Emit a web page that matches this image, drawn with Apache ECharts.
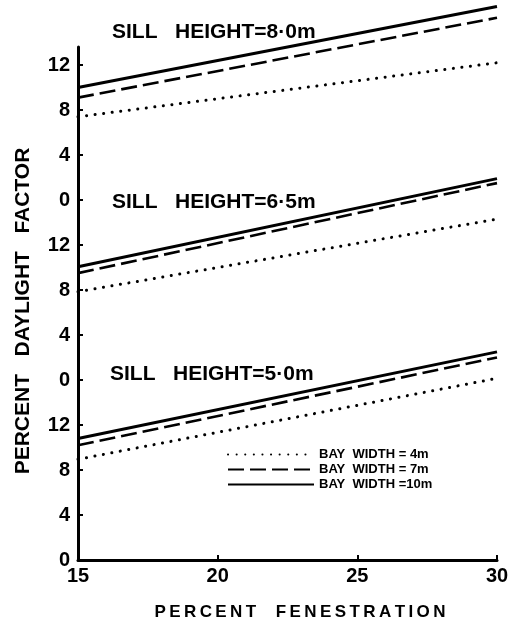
<!DOCTYPE html>
<html><head><meta charset="utf-8">
<script src="https://cdn.jsdelivr.net/npm/echarts@6/dist/echarts.min.js"></script>
<style>html,body{margin:0;padding:0;background:#fff}#c{width:513px;height:627px}</style>
</head><body><div id="c"></div>
<script>
// x values (percent fenestration) at which the straight lines were read
const fenestration = [15, 30];
const xTickValues = [15, 20, 25, 30];
// percent daylight factor, [at 15 %, at 30 %]
const sill50_bay4  = [8.95, 16.15];
const sill50_bay7  = [10.2, 18.0];
const sill50_bay10 = [10.8, 18.5];
const sill65_bay4  = [7.85, 14.3];
const sill65_bay7  = [9.5, 17.5];
const sill65_bay10 = [10.07, 17.9];
const sill80_bay4  = [7.4, 12.2];
const sill80_bay7  = [9.1, 16.2];
const sill80_bay10 = [10.0, 17.2];
const panelNames = ['SILL   HEIGHT=5·0m', 'SILL   HEIGHT=6·5m', 'SILL   HEIGHT=8·0m'];
const bayNames = ['BAY  WIDTH = 4m', 'BAY  WIDTH = 7m', 'BAY  WIDTH =10m'];
const yTickLabels = ['0', '4', '8', '12'];
const yTitle = 'PERCENT   DAYLIGHT   FACTOR';
const xTitle = 'PERCENT  FENESTRATION';
const panelSpan = 16; // each panel repeats the 0..12 scale

const spaced = s => s.split('').join('\u2009');
const panels = [
  [sill50_bay4, sill50_bay7, sill50_bay10],
  [sill65_bay4, sill65_bay7, sill65_bay10],
  [sill80_bay4, sill80_bay7, sill80_bay10]
];
const styles = [
  {color: '#000', width: 3, type: [0.1, 8.5], cap: 'round'},
  {color: '#000', width: 2.6, type: [16, 6]},
  {color: '#000', width: 3, type: 'solid'}
];
const series = [];
panels.forEach((p, pi) => {
  p.forEach((vals, bi) => {
    series.push({
      type: 'line', name: bayNames[bi], symbol: 'none', clip: false,
      silent: true, lineStyle: styles[bi], itemStyle: {color: '#000', opacity: 0},
      data: fenestration.map((x, i) => [x, vals[i] + pi * panelSpan])
    });
  });
});
const yTickValues = [];
for (let p = 0; p < 3; p++) yTickLabels.forEach(t => yTickValues.push(+t + p * panelSpan));

const labelFont = {fontFamily: 'Liberation Sans', fontWeight: 'bold', fontSize: 20, color: '#000'};
const chart = echarts.init(document.getElementById('c'), null, {renderer: 'canvas'});
chart.setOption({
  animation: false,
  backgroundColor: '#fff',
  grid: {left: 78, right: 16, top: 47, bottom: 67, outerBoundsMode: 'none'},
  xAxis: {
    type: 'value', min: 15, max: 30, interval: 5,
    axisLine: {lineStyle: {color: '#000', width: 3}},
    axisTick: {inside: true, length: 5, lineStyle: {color: '#000', width: 2}, customValues: xTickValues},
    axisLabel: Object.assign({margin: 6, customValues: xTickValues}, labelFont),
    splitLine: {show: false}
  },
  yAxis: {
    type: 'value', min: 0, max: 45.6,
    axisLine: {show: true, lineStyle: {color: '#000', width: 3}},
    axisTick: {show: true, inside: true, length: 5, lineStyle: {color: '#000', width: 2}, customValues: yTickValues},
    axisLabel: Object.assign({margin: 8, customValues: yTickValues,
      formatter: v => yTickLabels[Math.round(v / 4) % 4]}, labelFont),
    splitLine: {show: false}
  },
  legend: {
    orient: 'vertical', left: 227, top: 448, itemWidth: 86, itemHeight: 10, itemGap: 2,
    data: bayNames, selectedMode: false, padding: 0,
    itemStyle: {opacity: 0},
    textStyle: {fontFamily: 'Liberation Sans', fontWeight: 'bold', fontSize: 13, color: '#000'}
  },
  graphic: [
    {type: 'text', x: 23, y: 311, rotation: Math.PI / 2,
     style: {text: yTitle, font: 'bold 21px "Liberation Sans"', fill: '#000', textAlign: 'center', textVerticalAlign: 'middle'}},
    {type: 'text', x: 300, y: 612,
     style: {text: spaced(xTitle), font: 'bold 17px "Liberation Sans"', fill: '#000', textAlign: 'center', textVerticalAlign: 'middle'}},
    {type: 'text', x: 110, y: 374, style: {text: panelNames[0], font: 'bold 21px "Liberation Sans"', fill: '#000', textVerticalAlign: 'middle'}},
    {type: 'text', x: 112, y: 202, style: {text: panelNames[1], font: 'bold 21px "Liberation Sans"', fill: '#000', textVerticalAlign: 'middle'}},
    {type: 'text', x: 112, y: 32, style: {text: panelNames[2], font: 'bold 21px "Liberation Sans"', fill: '#000', textVerticalAlign: 'middle'}}
  ],
  series: series
});
</script></body></html>
